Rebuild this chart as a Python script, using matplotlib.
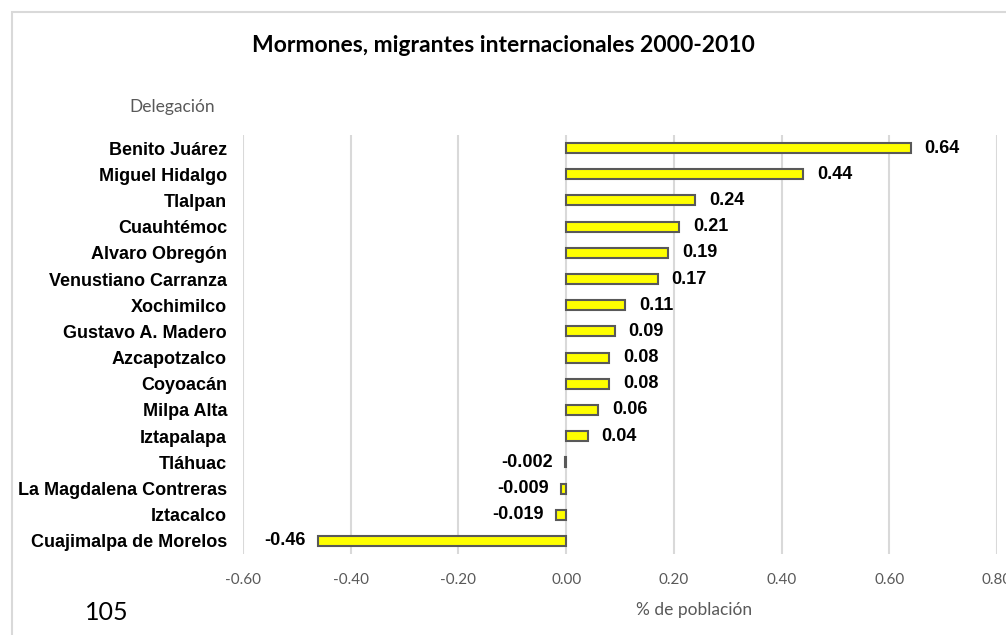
import matplotlib
matplotlib.use("Agg")
import matplotlib.pyplot as plt
from matplotlib.patches import Rectangle

categories = ["Benito Juárez", "Miguel Hidalgo", "Tlalpan", "Cuauhtémoc", "Alvaro Obregón",
              "Venustiano Carranza", "Xochimilco", "Gustavo A. Madero", "Azcapotzalco",
              "Coyoacán", "Milpa Alta", "Iztapalapa", "Tláhuac", "La Magdalena Contreras",
              "Iztacalco", "Cuajimalpa de Morelos"]
values = [0.64, 0.44, 0.24, 0.21, 0.19, 0.17, 0.11, 0.09, 0.08, 0.08, 0.06, 0.04,
          -0.002, -0.009, -0.019, -0.46]
labels = ["0.64", "0.44", "0.24", "0.21", "0.19", "0.17", "0.11", "0.09", "0.08", "0.08",
          "0.06", "0.04", "-0.002", "-0.009", "-0.019", "-0.46"]
xticks = [-0.6, -0.4, -0.2, 0.0, 0.2, 0.4, 0.6, 0.8]
xticklabels = ["-0.60", "-0.40", "-0.20", "0.00", "0.20", "0.40", "0.60", "0.80"]

W, H = 1006, 635
fig = plt.figure(figsize=(W/100, H/100), dpi=100)
fig.patch.set_facecolor("white")

# outer frame
fig.patches.append(Rectangle((12/W, -0.05), 1.1, 1 - 12/H + 0.05, transform=fig.transFigure,
                             fill=False, edgecolor="#d9d9d9", linewidth=1.5))

ax = fig.add_axes([243/W, 1 - 554/H, (997-243)/W, (554-135)/H])
y = list(range(len(categories)))
ax.barh(y, values, height=0.38, color="#FFFF00", edgecolor="#595959", linewidth=1.5, zorder=3)
ax.set_ylim(len(categories) - 0.5, -0.5)
ax.set_xlim(-0.6, 0.8)
ax.set_xticks(xticks)
ax.set_xticklabels(xticklabels, fontsize=11, color="#595959", family="Lato")
ax.set_yticks(y)
ax.set_yticklabels(categories, fontsize=13, fontweight="bold", family="Liberation Sans")
ax.tick_params(axis="both", length=0)
ax.tick_params(axis="x", pad=14)
ax.tick_params(axis="y", pad=11.5)
ax.grid(axis="x", color="#d9d9d9", linewidth=1.5, zorder=0)
for s in ax.spines.values():
    s.set_visible(False)

for yi, v, lab in zip(y, values, labels):
    if v >= 0:
        ax.annotate(lab, (v, yi), xytext=(10, 0), textcoords="offset points",
                    ha="left", va="center", fontsize=13, fontweight="bold", family="Liberation Sans")
    else:
        ax.annotate(lab, (v, yi), xytext=(-9, 0), textcoords="offset points",
                    ha="right", va="center", fontsize=13, fontweight="bold", family="Liberation Sans")

fig.text(503/W, 1 - 45/H, "Mormones, migrantes internacionales 2000-2010", ha="center", va="center",
         fontsize=16.5, fontweight="bold", family="Lato")
fig.text(172/W, 1 - 107/H, "Delegación", ha="center", va="center", fontsize=12.5, color="#595959", family="Lato")
fig.text(694/W, 1 - 610/H, "% de población", ha="center", va="center", fontsize=12.5, color="#595959", family="Lato")
fig.text(107/W, 1 - 612/H, "105", ha="center", va="center", fontsize=18, color="black", family="Lato")

fig.savefig("out.png", dpi=100)
